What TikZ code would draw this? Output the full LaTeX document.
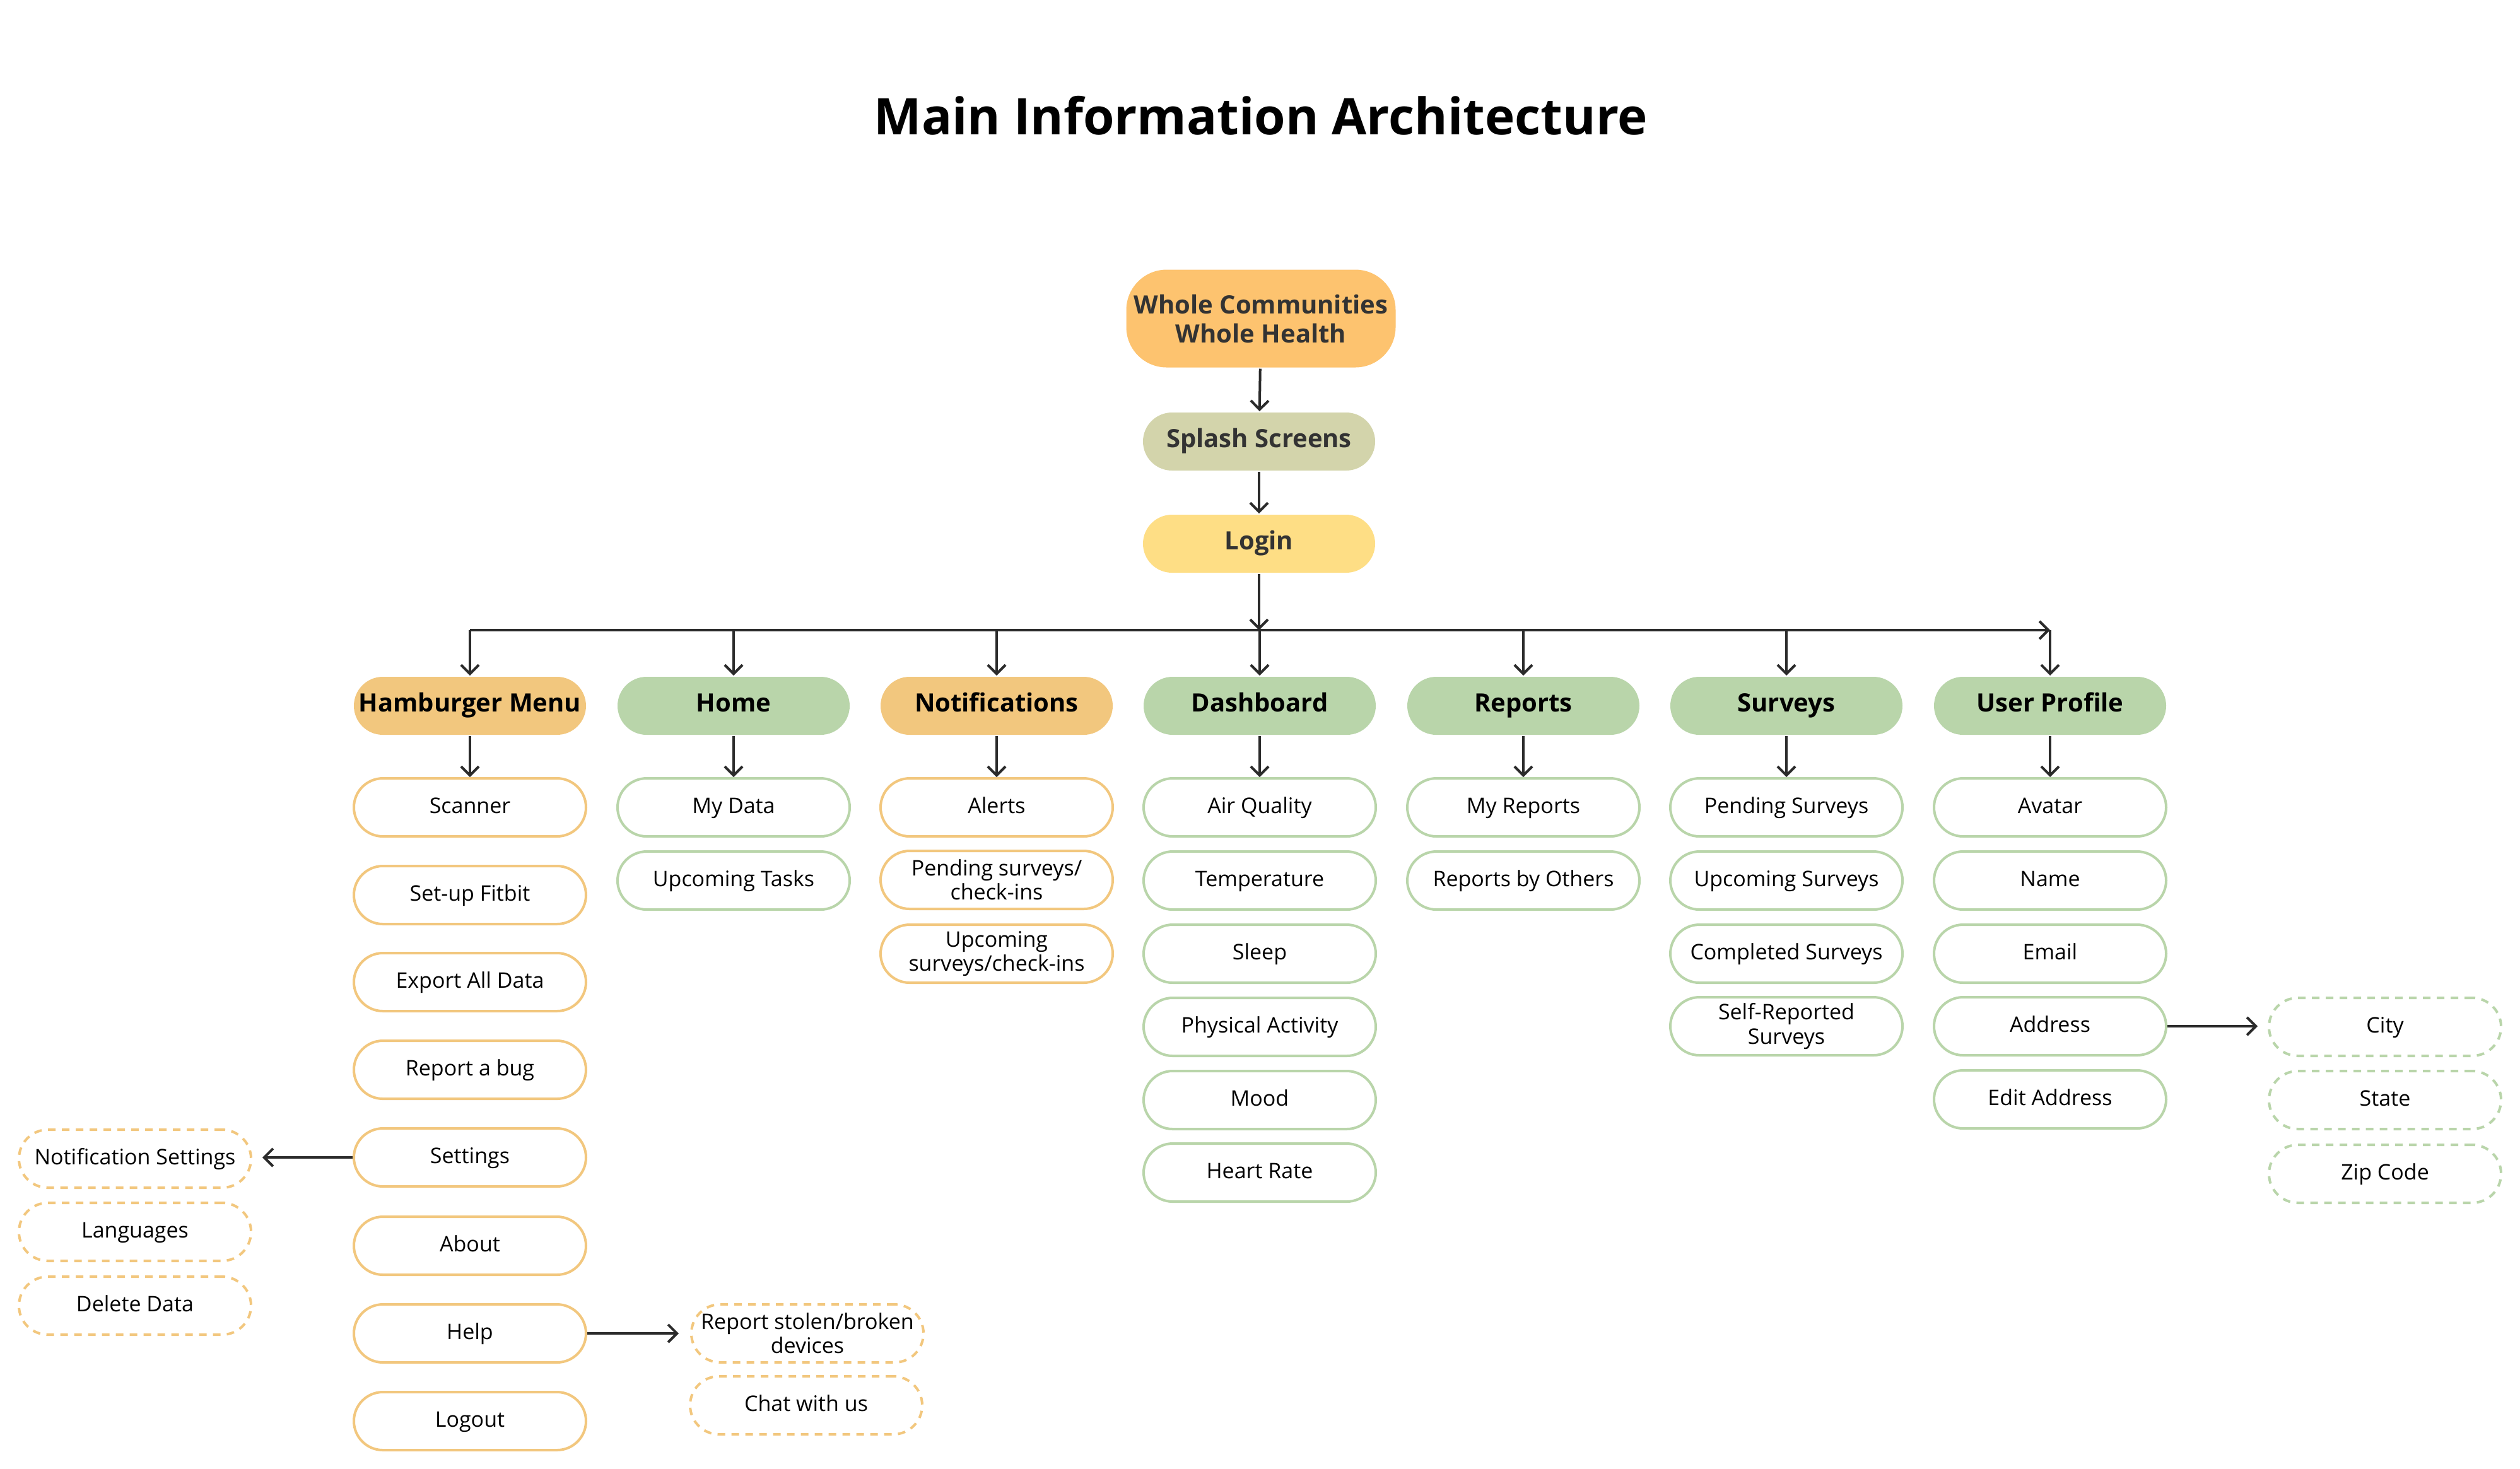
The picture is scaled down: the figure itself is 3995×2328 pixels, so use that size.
\documentclass[tikz,border=0pt]{standalone}
\usepackage{fontspec}
\setmainfont{Open Sans}
\usetikzlibrary{arrows.meta}

\definecolor{rootorange}{HTML}{FDC36F}
\definecolor{splashgreen}{HTML}{D3D4AB}
\definecolor{loginyellow}{HTML}{FEDE85}
\definecolor{menuorange}{HTML}{F2C77E}
\definecolor{menugreen}{HTML}{B9D5AA}
\definecolor{linegray}{HTML}{2B2B2B}

\begin{document}
\begin{tikzpicture}[
        x=0.25pt, y=-0.25pt,
        every node/.style={align=center, text=black, inner sep=1pt},
        pill/.style={rounded corners=11.5pt, minimum width=92pt, minimum height=23pt, line width=1pt, text height=6.5pt, text depth=1.8pt},
        twoline/.style={text height={}, text depth={}},
        rootbox/.style={pill, font=\fontsize{10}{11.5}\selectfont\bfseries, text=black!80},
        headO/.style={pill, fill=menuorange, font=\fontsize{10}{12}\selectfont\bfseries},
        headG/.style={pill, fill=menugreen, font=\fontsize{10}{12}\selectfont\bfseries},
        itemO/.style={pill, draw=menuorange, fill=white, font=\fontsize{8.5}{9.6}\selectfont},
        itemG/.style={pill, draw=menugreen, fill=white, font=\fontsize{8.5}{9.6}\selectfont},
        extraO/.style={itemO, dash pattern=on 3pt off 2.5pt},
        extraG/.style={itemG, dash pattern=on 3pt off 2.5pt},
        arr/.style={draw=linegray, line width=1pt, -{Straight Barb[length=3.5pt,width=7pt,line width=1pt]}}
    ]
        \fill[white] (0,0) rectangle (3995,2328);
        \useasboundingbox (0,0) rectangle (3995,2328);

        % Title
        \node[font=\fontsize{20}{24}\selectfont\bfseries] (title) at (1999,183) {Main Information Architecture};

        % Top of the tree
        \node[rootbox, twoline, fill=rootorange, minimum width=106.75pt, minimum height=38.75pt, rounded corners=16pt] (root) at (1999,505) {Whole Communities\\Whole Health};
        \node[rootbox, fill=splashgreen] (splash) at (1996,700) {Splash Screens};
        \node[rootbox, fill=loginyellow] (login) at (1996,862) {Login};

        % Main sections
        \node[headO] (ham) at (745,1119) {Hamburger Menu};
        \node[headG] (home) at (1163,1119) {Home};
        \node[headO] (notif) at (1580,1119) {Notifications};
        \node[headG] (dash) at (1997,1119) {Dashboard};
        \node[headG] (reports) at (2415,1119) {Reports};
        \node[headG] (surveys) at (2832,1119) {Surveys};
        \node[headG] (profile) at (3250,1119) {User Profile};

        % Hamburger Menu
        \node[itemO] (scanner) at (745,1280) {Scanner};
        \node[itemO] (fitbit) at (745,1419) {Set-up Fitbit};
        \node[itemO] (export) at (745,1557) {Export All Data};
        \node[itemO] (bug) at (745,1696) {Report a bug};
        \node[itemO] (settings) at (745,1835) {Settings};
        \node[itemO] (about) at (745,1975) {About};
        \node[itemO] (help) at (745,2114) {Help};
        \node[itemO] (logout) at (745,2253) {Logout};
        \node[extraO] (notifset) at (214,1837) {Notification Settings};
        \node[extraO] (lang) at (214,1953) {Languages};
        \node[extraO] (deldata) at (214,2070) {Delete Data};
        \node[extraO, twoline] (stolen) at (1280,2114) {Report stolen/broken\\devices};
        \node[extraO] (chat) at (1278,2228) {Chat with us};

        % Home
        \node[itemG] (mydata) at (1163,1280) {My Data};
        \node[itemG] (tasks) at (1163,1396) {Upcoming Tasks};

        % Notifications
        \node[itemO] (alerts) at (1580,1280) {Alerts};
        \node[itemO, twoline] (pendci) at (1580,1395) {Pending surveys/\\check-ins};
        \node[itemO, twoline] (upci) at (1580,1512) {Upcoming\\surveys/check-ins};

        % Dashboard
        \node[itemG] (air) at (1997,1280) {Air Quality};
        \node[itemG] (temp) at (1997,1396) {Temperature};
        \node[itemG] (sleep) at (1997,1512) {Sleep};
        \node[itemG] (activity) at (1997,1628) {Physical Activity};
        \node[itemG] (mood) at (1997,1744) {Mood};
        \node[itemG] (heart) at (1997,1859) {Heart Rate};

        % Reports
        \node[itemG] (myrep) at (2415,1280) {My Reports};
        \node[itemG] (otherrep) at (2415,1396) {Reports by Others};

        % Surveys
        \node[itemG] (pendsv) at (2832,1280) {Pending Surveys};
        \node[itemG] (upsv) at (2832,1396) {Upcoming Surveys};
        \node[itemG] (donesv) at (2832,1512) {Completed Surveys};
        \node[itemG, twoline] (selfsv) at (2832,1627) {Self-Reported\\Surveys};

        % User Profile
        \node[itemG] (avatar) at (3250,1280) {Avatar};
        \node[itemG] (name) at (3250,1396) {Name};
        \node[itemG] (email) at (3250,1512) {Email};
        \node[itemG] (address) at (3250,1627) {Address};
        \node[itemG] (editaddr) at (3250,1743) {Edit Address};
        \node[extraG] (city) at (3781,1628) {City};
        \node[extraG] (state) at (3781,1744) {State};
        \node[extraG] (zip) at (3781,1861) {Zip Code};

        % Arrows
        \coordinate (bus) at (0,999);
        \draw[arr] (root) -- (splash);
        \draw[arr] (splash) -- (login);
        \draw[arr] (login) -- (login |- bus);
        \draw[arr] (ham |- bus) -- (profile |- bus);
        \foreach \h in {ham,home,notif,dash,reports,surveys,profile}
            \draw[arr] (\h |- bus) -- (\h);
        \draw[arr] (ham) -- (scanner);
        \draw[arr] (home) -- (mydata);
        \draw[arr] (notif) -- (alerts);
        \draw[arr] (dash) -- (air);
        \draw[arr] (reports) -- (myrep);
        \draw[arr] (surveys) -- (pendsv);
        \draw[arr] (profile) -- (avatar);
        \draw[arr, shorten >=4pt] (settings) -- (settings -| notifset.east);
        \draw[arr, shorten >=4.5pt] (help) -- (help -| stolen.west);
        \draw[arr, shorten >=4pt] (address) -- (address -| city.west);
    \end{tikzpicture}
\end{document}
